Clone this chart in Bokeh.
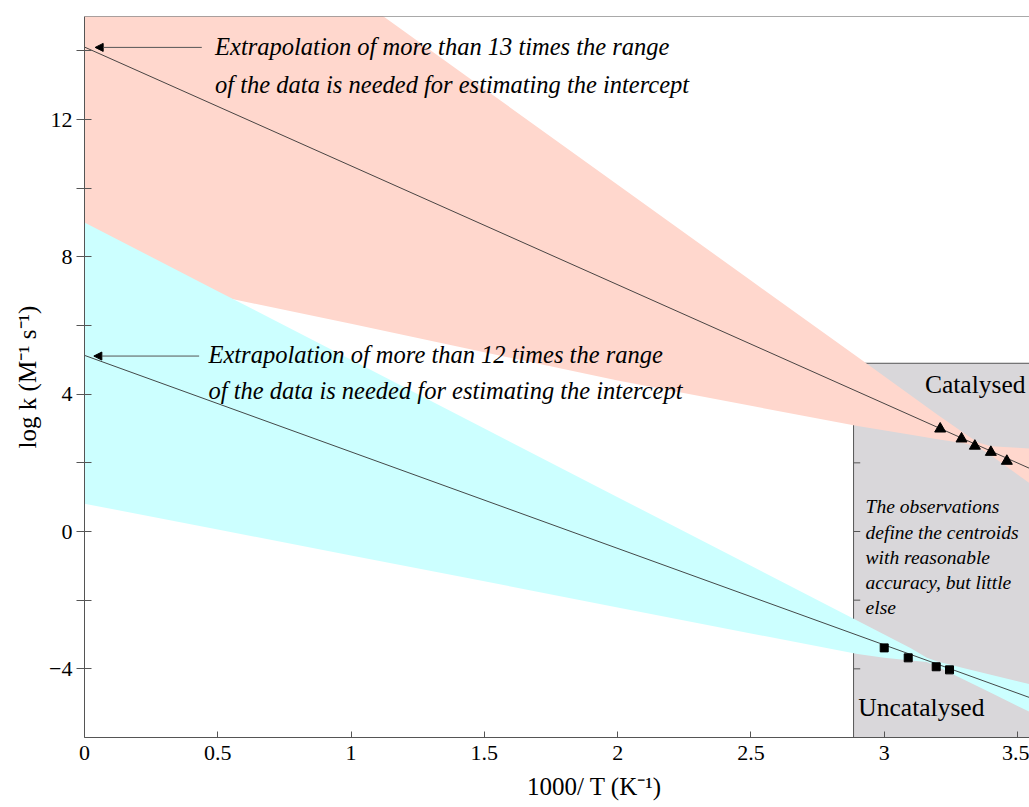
from bokeh.plotting import figure
from bokeh.models import Range1d, FixedTicker, Arrow, NormalHead, Span
from bokeh.core.properties import value
from bokeh.embed import file_html
from bokeh.resources import INLINE

# ---------------- data ----------------
CAT_X = [3.21, 3.29, 3.34, 3.40, 3.46]
CAT_Y = [2.99, 2.70, 2.49, 2.31, 2.05]
UNCAT_X = [3.00, 3.09, 3.195, 3.245]
UNCAT_Y = [-3.39, -3.68, -3.94, -4.03]

FIT_X = [0.0, 3.6]
CAT_FIT_Y = [14.11, 1.65]
UNCAT_FIT_Y = [5.13, -4.99]

RED_BAND_X = [0.0, 0.5, 1.0, 1.5, 2.0, 2.5, 2.9, 3.1, 3.2, 3.3, 3.35, 3.4, 3.5, 3.6]
RED_UPPER = [21.26, 18.47, 15.68, 12.89, 10.10, 7.31, 5.08, 3.96, 3.40, 2.86, 2.60, 2.48, 2.44, 2.38]
RED_LOWER = [7.67, 6.86, 6.05, 5.22, 4.40, 3.66, 3.07, 2.82, 2.69, 2.57, 2.47, 2.22, 1.66, 1.10]

CYAN_BAND_X = [0.0, 0.5, 1.0, 1.5, 2.0, 2.5, 2.9, 3.0, 3.1, 3.16, 3.2, 3.3, 3.4, 3.5, 3.6]
CYAN_UPPER = [9.0, 7.0, 5.0, 3.0, 1.0, -1.0, -2.6, -3.0, -3.4, -3.68, -3.79, -3.98, -4.17, -4.36, -4.55]
CYAN_LOWER = [0.81, 0.06, -0.70, -1.45, -2.21, -2.97, -3.57, -3.68, -3.76, -3.80, -3.94, -4.32, -4.70, -5.08, -5.46]

X_TICKS = [0, 0.5, 1, 1.5, 2, 2.5, 3, 3.5]
X_TICK_LABELS = ["0", "0.5", "1", "1.5", "2", "2.5", "3", "3.5"]
Y_TICKS = [-4, 0, 4, 8, 12]
Y_TICK_LABELS = ["\u22124", "0", "4", "8", "12"]
Y_MINOR = [-2, 2, 6, 10, 14]

BOX_LEFT = 2.885
BOX_TOP = 4.9
BOX_TICKS = [2, 0, -2, -4]

X_MIN, X_MAX = 0, 3.545
Y_MIN, Y_MAX = -6, 15

SERIF = "Liberation Serif"

p = figure(width=1029, height=806,
           x_range=Range1d(X_MIN, X_MAX), y_range=Range1d(Y_MIN, Y_MAX),
           output_backend="svg", toolbar_location=None,
           min_border_left=84, min_border_top=16, min_border_right=0, min_border_bottom=69)
p.grid.visible = False
p.outline_line_color = None
p.background_fill_color = "white"
p.border_fill_color = "white"

# grey box
p.quad(left=[BOX_LEFT], right=[X_MAX + 0.5], bottom=[Y_MIN - 1], top=[BOX_TOP],
       fill_color="#D9D7DA", line_color="#555555", line_width=1)
p.segment(x0=[BOX_LEFT] * len(BOX_TICKS), x1=[BOX_LEFT + 0.025] * len(BOX_TICKS),
          y0=BOX_TICKS, y1=BOX_TICKS, line_color="#555555", line_width=1)

# bands
p.varea(x=RED_BAND_X, y1=RED_LOWER, y2=RED_UPPER, fill_color="#FFD7CD")
p.varea(x=CYAN_BAND_X, y1=CYAN_LOWER, y2=CYAN_UPPER, fill_color="#CCFFFF")

# fitted lines
p.line(FIT_X, CAT_FIT_Y, line_color="#333333", line_width=0.9)
p.line(FIT_X, UNCAT_FIT_Y, line_color="#333333", line_width=0.9)

# observations
p.scatter(CAT_X, CAT_Y, marker="triangle", size=11, color="black")
p.scatter(UNCAT_X, UNCAT_Y, marker="square", size=8, color="black")

# arrows
p.add_layout(Arrow(end=NormalHead(size=8, fill_color="black", line_color="black"),
                   x_start=0.44, y_start=14.1, x_end=0.04, y_end=14.1,
                   line_color="#555555", line_width=1))
p.add_layout(Arrow(end=NormalHead(size=8, fill_color="black", line_color="black"),
                   x_start=0.43, y_start=5.11, x_end=0.035, y_end=5.11,
                   line_color="#555555", line_width=1))

# annotations
p.text(x=[0.49], y=[13.57],
       text=["Extrapolation of more than 13 times the range\nof the data is needed for estimating the intercept"],
       text_font=value(SERIF), text_font_style="italic", text_font_size="24.5px",
       text_align="left", text_baseline="middle", text_line_height=1.4, text_color="black")
p.text(x=[0.465], y=[4.62],
       text=["Extrapolation of more than 12 times the range\nof the data is needed for estimating the intercept"],
       text_font=value(SERIF), text_font_style="italic", text_font_size="24.5px",
       text_align="left", text_baseline="middle", text_line_height=1.34, text_color="black")
p.text(x=[2.93], y=[-0.75],
       text=["The observations\ndefine the centroids\nwith reasonable\naccuracy, but little\nelse"],
       text_font=value(SERIF), text_font_style="italic", text_font_size="19.5px",
       text_align="left", text_baseline="middle", text_line_height=1.2, text_color="black")
p.text(x=[3.53], y=[4.29], text=["Catalysed"],
       text_font=value(SERIF), text_font_size="25.5px",
       text_align="right", text_baseline="middle", text_color="black")
p.text(x=[2.903], y=[-5.13], text=["Uncatalysed"],
       text_font=value(SERIF), text_font_size="25.5px",
       text_align="left", text_baseline="middle", text_color="black")

# top frame line
p.add_layout(Span(location=Y_MAX, dimension="width", line_color="#555555", line_width=1))

# axes
xa = p.xaxis[0]
xa.ticker = FixedTicker(ticks=X_TICKS)
xa.major_label_overrides = {t: l for t, l in zip(X_TICKS, X_TICK_LABELS)}
xa.major_tick_in = 6
xa.major_tick_out = 0
xa.minor_tick_in = 0
xa.minor_tick_out = 0
# em spaces shift the centred title right, as in the cropped original
xa.axis_label = "\u2003\u2003\u20031000/ T (K\u207b\u00b9)"

ya = p.yaxis[0]
ya.ticker = FixedTicker(ticks=Y_TICKS, minor_ticks=Y_MINOR)
ya.major_label_overrides = {t: l for t, l in zip(Y_TICKS, Y_TICK_LABELS)}
ya.major_tick_in = 7
ya.major_tick_out = 8
ya.minor_tick_in = 7
ya.minor_tick_out = 8
ya.axis_label = "log k (M\u207b\u00b9 s\u207b\u00b9)"

for ax in (xa, ya):
    ax.axis_line_color = "#555555"
    ax.major_tick_line_color = "#555555"
    ax.minor_tick_line_color = "#555555"
    ax.major_label_text_font = SERIF
    ax.major_label_text_font_size = "22px"
    ax.major_label_text_color = "black"
    ax.axis_label_text_font = SERIF
    ax.axis_label_text_font_size = "25px"
    ax.axis_label_text_font_style = "normal"
    ax.axis_label_text_color = "black"

xa.major_label_standoff = 8
xa.axis_label_standoff = 10
ya.major_label_standoff = 4
ya.axis_label_standoff = 5

open("out.html", "w").write(file_html(p, INLINE))
